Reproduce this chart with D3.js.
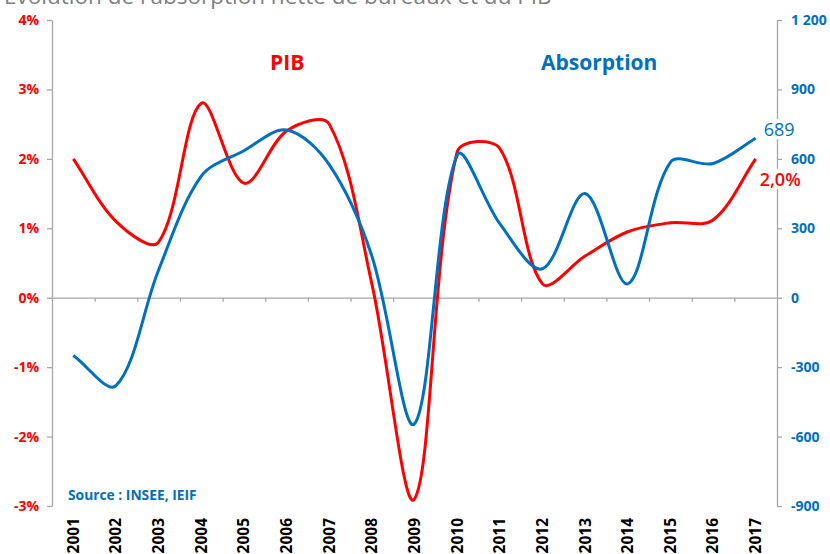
<!DOCTYPE html>
<html>
<head>
<meta charset="utf-8">
<script src="https://cdn.jsdelivr.net/npm/d3@7/dist/d3.min.js"></script>
<style>
  html, body { margin: 0; padding: 0; background: #fff; }
  svg { display: block; }
  text { font-family: "Open Sans", "Noto Sans", sans-serif; }
</style>
</head>
<body>
<svg id="chart" width="830" height="554"></svg>
<script>
// Years on the horizontal axis
const years = [2001, 2002, 2003, 2004, 2005, 2006, 2007, 2008, 2009,
               2010, 2011, 2012, 2013, 2014, 2015, 2016, 2017];

// French GDP growth, % per year (left axis)
const pib = [2.0, 1.1, 0.8, 2.8, 1.65, 2.4, 2.5, 0.2, -2.9,
             2.1, 2.15, 0.2, 0.6, 0.95, 1.08, 1.12, 2.0];

// Net office absorption, thousand m² (right axis)
const absorption = [-250, -380, 120, 525, 635, 725, 575, 180, -545,
                    615, 320, 125, 450, 60, 585, 580, 689];

// Axis ticks
const pibTicks = [-3, -2, -1, 0, 1, 2, 3, 4];
const absTicks = [-900, -600, -300, 0, 300, 600, 900, 1200];

const RED = "#FF0000";
const BLUE = "#0070C0";
const GREY = "#A6A6A6";

const svg = d3.select("#chart");
const plotLeft = 52, plotRight = 777, plotTop = 20, plotBottom = 506;

const x = d3.scaleBand().domain(years).range([plotLeft, plotRight]);
const xc = d => x(d) + x.bandwidth() / 2;
const yL = d3.scaleLinear().domain([-3, 4]).range([plotBottom, plotTop]);
const yR = d3.scaleLinear().domain([-900, 1200]).range([plotBottom, plotTop]);
const hyphen = s => s.replace(/\u2212/g, "-");

// Title
svg.append("text")
  .attr("x", 4).attr("y", 4)
  .attr("font-size", 22.5)
  .attr("fill", "#7f7f7f")
  .text("Évolution de l'absorption nette de bureaux et du PIB");

// Zero line with category separators
const zeroAxis = d3.axisBottom(d3.scaleLinear().domain([0, years.length]).range([plotLeft, plotRight]))
  .tickValues(d3.range(1, years.length))
  .tickSize(4)
  .tickSizeOuter(0)
  .tickFormat("");
const gz = svg.append("g").attr("transform", `translate(0,${yL(0)})`).call(zeroAxis);
gz.selectAll("path, line").attr("stroke", GREY).attr("stroke-width", 1.3);

// Left axis (PIB %)
const gl = svg.append("g").attr("transform", `translate(${plotLeft},0)`)
  .call(d3.axisLeft(yL).tickValues(pibTicks).tickSize(5).tickSizeOuter(0).tickPadding(8)
    .tickFormat(d => hyphen(d + "%")));
gl.selectAll("path, line").attr("stroke", GREY).attr("stroke-width", 1.3);
gl.selectAll("text").attr("font-size", 14).attr("font-weight", "bold")
  .attr("fill", RED).attr("font-family", "'Open Sans', sans-serif");

// Right axis (absorption, space as thousands separator)
const gr = svg.append("g").attr("transform", `translate(${plotRight},0)`)
  .call(d3.axisRight(yR).tickValues(absTicks).tickSize(5).tickSizeOuter(0).tickPadding(9)
    .tickFormat(d => hyphen(d3.format(",")(d)).replace(/,/g, " ")));
gr.selectAll("path, line").attr("stroke", GREY).attr("stroke-width", 1.3);
gr.selectAll("text").attr("font-size", 14).attr("font-weight", "bold")
  .attr("fill", BLUE).attr("font-family", "'Open Sans', sans-serif");

// Year labels, rotated
const gx = svg.append("g").attr("transform", `translate(0,518)`)
  .call(d3.axisBottom(x).tickSize(0).tickPadding(0));
gx.select(".domain").remove();
gx.selectAll("text")
  .attr("transform", "rotate(-90)")
  .attr("text-anchor", "end")
  .attr("x", 0).attr("y", 0).attr("dy", "0.35em")
  .attr("font-size", 15.5).attr("font-weight", "bold")
  .attr("fill", "#000").attr("font-family", "'Open Sans', sans-serif");

// Smoothed line: cubic Bézier segments whose tangents follow the
// neighbouring points, weighted by segment lengths to limit overshoot.
function smoothPath(pts) {
  const p = d3.path();
  const n = pts.length;
  const dist = (a, b) => Math.hypot(b[0] - a[0], b[1] - a[1]);
  p.moveTo(pts[0][0], pts[0][1]);
  for (let i = 0; i < n - 1; i++) {
    const p0 = pts[Math.max(i - 1, 0)], p1 = pts[i], p2 = pts[i + 1], p3 = pts[Math.min(i + 2, n - 1)];
    const d01 = dist(p0, p1), d12 = dist(p1, p2), d23 = dist(p2, p3);
    const f1 = d12 / ((d01 + d12) || 1) / 3;
    const f2 = d12 / ((d12 + d23) || 1) / 3;
    const c1 = [p1[0] + (p2[0] - p0[0]) * f1, p1[1] + (p2[1] - p0[1]) * f1];
    const c2 = [p2[0] - (p3[0] - p1[0]) * f2, p2[1] - (p3[1] - p1[1]) * f2];
    p.bezierCurveTo(c1[0], c1[1], c2[0], c2[1], p2[0], p2[1]);
  }
  return p.toString();
}

const pibPts = pib.map((v, i) => [xc(years[i]), yL(v)]);
const absPts = absorption.map((v, i) => [xc(years[i]), yR(v)]);

svg.append("path")
  .attr("d", smoothPath(pibPts)).attr("fill", "none")
  .attr("stroke", RED).attr("stroke-width", 3).attr("stroke-linejoin", "round");
svg.append("path")
  .attr("d", smoothPath(absPts)).attr("fill", "none")
  .attr("stroke", BLUE).attr("stroke-width", 3).attr("stroke-linejoin", "round");

// Series names
svg.append("text").attr("x", 270).attr("y", 70)
  .attr("font-size", 21).attr("font-weight", "bold").attr("fill", RED).text("PIB");
svg.append("text").attr("x", 541).attr("y", 70)
  .attr("font-size", 21).attr("font-weight", "bold").attr("fill", BLUE).text("Absorption");

// Last-value labels with white backing
function endLabel(txt, xPos, yPos, color, weight) {
  const g = svg.append("g");
  const t = g.append("text").attr("x", xPos).attr("y", yPos)
    .attr("font-size", 18).attr("font-weight", weight).attr("fill", color).text(txt);
  const b = t.node().getBBox();
  g.insert("rect", "text")
    .attr("x", b.x - 1).attr("y", b.y + 2)
    .attr("width", b.width + 2).attr("height", b.height - 4)
    .attr("fill", "#fff");
}
const last = years.length - 1;
endLabel(d3.format("d")(absorption[last]), xc(years[last]) + 8, yR(absorption[last]) - 2, BLUE, "normal");
endLabel(d3.format(".1f")(pib[last]).replace(".", ",") + "%", xc(years[last]) + 4, yL(pib[last]) + 27, RED, 600);

// Source note
svg.append("text").attr("x", 68).attr("y", 500)
  .attr("font-size", 13.8).attr("font-weight", "bold").attr("fill", BLUE)
  .text("Source : INSEE, IEIF");
</script>
</body>
</html>
